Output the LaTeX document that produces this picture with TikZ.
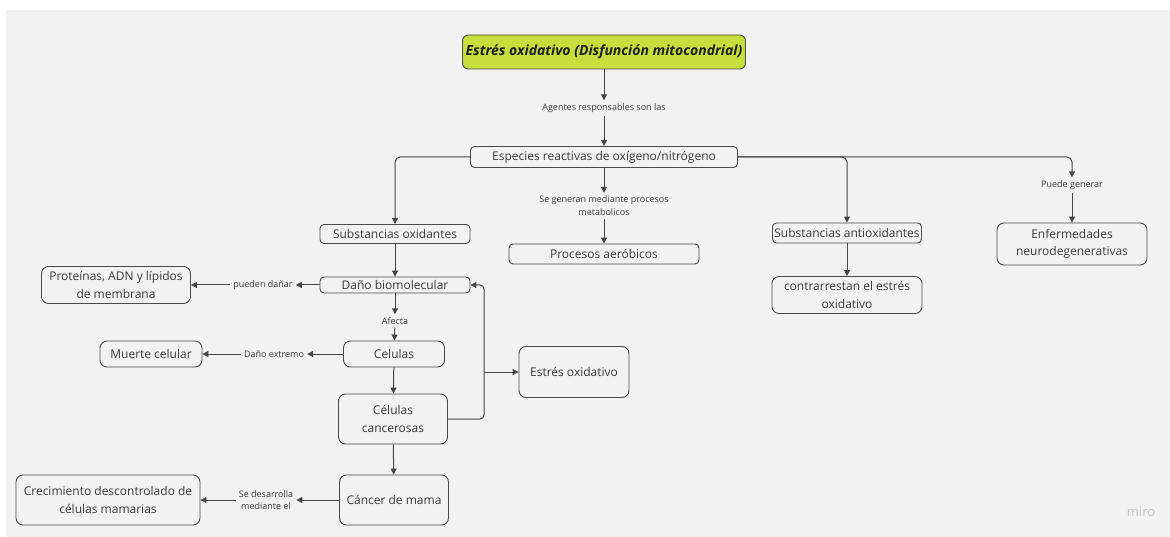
\documentclass[tikz,border=0pt]{standalone}
\usepackage{fontspec}
\setmainfont{Open Sans}
\usetikzlibrary{arrows.meta}
\definecolor{canvas}{HTML}{F2F2F2}
\definecolor{boxline}{HTML}{4A4A4A}
\definecolor{ink}{HTML}{3A3A3A}
\definecolor{wire}{HTML}{454545}
\definecolor{lime}{HTML}{C6DF3C}
\definecolor{mark}{HTML}{C4C4C4}
\tikzset{
  box/.style={draw=boxline, line width=0.9pt, rounded corners=4pt, align=center,
    text=ink, inner sep=0pt, font=\fontsize{12}{17.5}\selectfont},
  bigbox/.style={box, rounded corners=7pt},
  lbl/.style={align=center, text=ink, inner sep=3pt, font=\fontsize{9}{13}\selectfont},
  arr/.style={draw=wire, line width=1pt, -{Triangle[length=6pt,width=6pt]}},
}
\begin{document}
\begin{tikzpicture}[x=1pt, y=-1pt]
  \useasboundingbox (0,0) rectangle (1170,537);
  \fill[white] (0,0) rectangle (1170,537);
  \fill[canvas] (6,10) rectangle (1170,537);

  % title
  \node[box, fill=lime, rounded corners=6pt, minimum width=283pt, minimum height=34pt,
        font=\fontsize{14}{16}\selectfont\bfseries\itshape, text=black!88] (title) at (604,52)
        {Estrés oxidativo (Disfunción mitocondrial)};

  % main concepts
  \node[box, minimum width=267pt, minimum height=21pt] (esp) at (604,157)
        {Especies reactivas de oxígeno/nitrógeno};
  \node[box, minimum width=150pt, minimum height=19pt] (subox) at (395,234)
        {Substancias oxidantes};
  \node[box, minimum width=190pt, minimum height=20pt] (proc) at (604,254)
        {Procesos aeróbicos};
  \node[box, minimum width=149pt, minimum height=20pt] (suanti) at (847,233)
        {Substancias antioxidantes};
  \node[bigbox, minimum width=150pt, minimum height=37pt] (contra) at (847,295)
        {contrarrestan el estrés\\oxidativo};
  \node[bigbox, minimum width=150pt, minimum height=42pt] (enf) at (1072,244)
        {Enfermedades\\neurodegenerativas};
  \node[box, minimum width=150pt, minimum height=16pt] (dano) at (395,285)
        {Daño biomolecular};
  \node[bigbox, minimum width=149pt, minimum height=37pt] (prot) at (116,285)
        {Proteínas, ADN y lípidos\\de membrana};
  \node[bigbox, minimum width=101pt, minimum height=26pt] (cel) at (394,354)
        {Celulas};
  \node[bigbox, minimum width=102pt, minimum height=26pt] (muerte) at (151,354)
        {Muerte celular};
  \node[bigbox, minimum width=109pt, minimum height=50pt] (canc) at (393,419)
        {Células\\cancerosas};
  \node[bigbox, minimum width=110pt, minimum height=51pt] (estres) at (574,372)
        {Estrés oxidativo};
  \node[bigbox, minimum width=109pt, minimum height=50pt] (mama) at (394,500)
        {Cáncer de mama};
  \node[bigbox, minimum width=184pt, minimum height=50pt] (crec) at (108,500)
        {Crecimiento descontrolado de\\células mamarias};

  % connector labels
  \node[lbl] (l1) at (604,108) {Agentes responsables son las};
  \node[lbl] (l2) at (604,206) {Se generan mediante procesos\\metabolicos};
  \node[lbl] (l3) at (1072,185) {Puede generar};
  \node[lbl] (l4) at (263,285) {pueden dañar};
  \node[lbl] (l5) at (395,321) {Afecta};
  \node[lbl] (l6) at (274,354) {Daño extremo};
  \node[lbl, font=\fontsize{9}{11.5}\selectfont] (l7) at (266,500) {Se desarrolla\\mediante el};

  % connectors
  \draw[arr] (title) -- (l1);
  \draw[arr] (l1) -- (esp);
  \draw[arr, rounded corners=5pt] (esp.west) -| (subox.north);
  \draw[arr] (esp) -- (l2);
  \draw[arr] (l2) -- (proc);
  \draw[arr, rounded corners=5pt] (esp.east) -| (suanti.north);
  \draw[arr, rounded corners=5pt] (esp.east) -| (l3.north);
  \draw[arr] (l3) -- (enf);
  \draw[arr] (suanti) -- (contra);
  \draw[arr] (subox) -- (dano);
  \draw[arr] (dano) -- (l4);
  \draw[arr] (l4) -- (prot);
  \draw[arr] (dano) -- (l5);
  \draw[arr] (l5) -- (cel);
  \draw[arr] (cel) -- (l6);
  \draw[arr] (l6) -- (muerte);
  \draw[arr] (cel) -- (canc);
  \draw[arr] (canc) -- (mama);
  \draw[arr] (mama) -- (l7);
  \draw[arr] (l7) -- (crec);
  \coordinate (fork) at (484,372);
  \draw[arr, rounded corners=4pt] (canc.east) -| (fork) |- (dano.east);
  \draw[arr] (fork) -- (estres.west);

  % watermark
  \node[text=mark, font=\fontsize{13}{15}\selectfont, inner sep=0pt] (brand) at (1141,512) {miro};
\end{tikzpicture}
\end{document}
